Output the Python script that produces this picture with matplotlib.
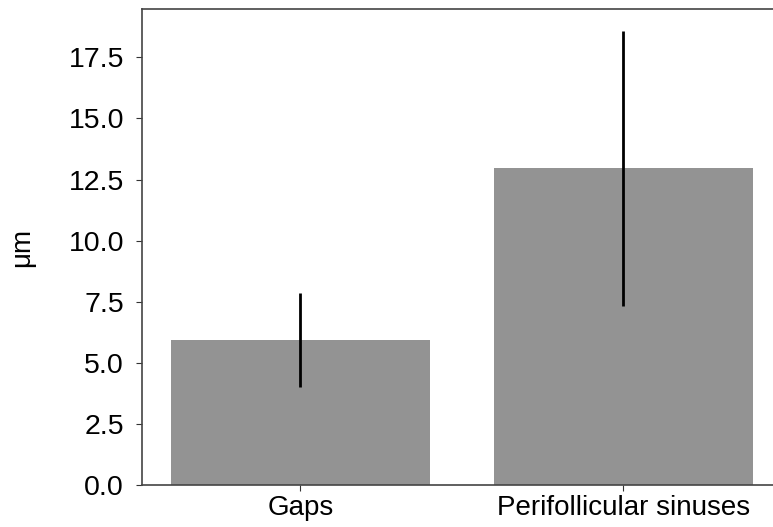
import matplotlib
matplotlib.use("Agg")
import matplotlib.pyplot as plt

# Data
categories = ["Gaps", "Perifollicular sinuses"]
means = [5.93, 12.96]
errors = [1.91, 5.62]
yticks = [0, 2.5, 5, 7.5, 10, 12.5, 15, 17.5]

plt.rcParams['font.family'] = ['Liberation Sans', 'DejaVu Sans']

fig = plt.figure(figsize=(7.73, 5.27), dpi=100)
ax = fig.add_axes([0.1837, 0.0797, 0.8163, 0.9033])

x = range(len(categories))
ax.bar(x, means, width=0.8, color='#939393')
ax.errorbar(x, means, yerr=errors, fmt='none', ecolor='black', elinewidth=2, capsize=0)

ax.set_xticks(list(x))
ax.set_xticklabels(categories)
ax.set_xlim(-0.49, 1.463)
ax.set_ylim(0, 19.48)
ax.set_yticks(yticks)
ax.set_yticklabels([f"{v:.1f}" for v in yticks])
ax.set_ylabel("μm", fontsize=20, labelpad=24)
ax.tick_params(labelsize=20, color='#333333', length=4)
ax.tick_params(axis='y', pad=9, labelsize=20.5)
ax.spines['right'].set_visible(False)
for s in ['left', 'top', 'bottom']:
    ax.spines[s].set_color('#444444')
    ax.spines[s].set_linewidth(1.2)

fig.savefig("out.png", dpi=100)
